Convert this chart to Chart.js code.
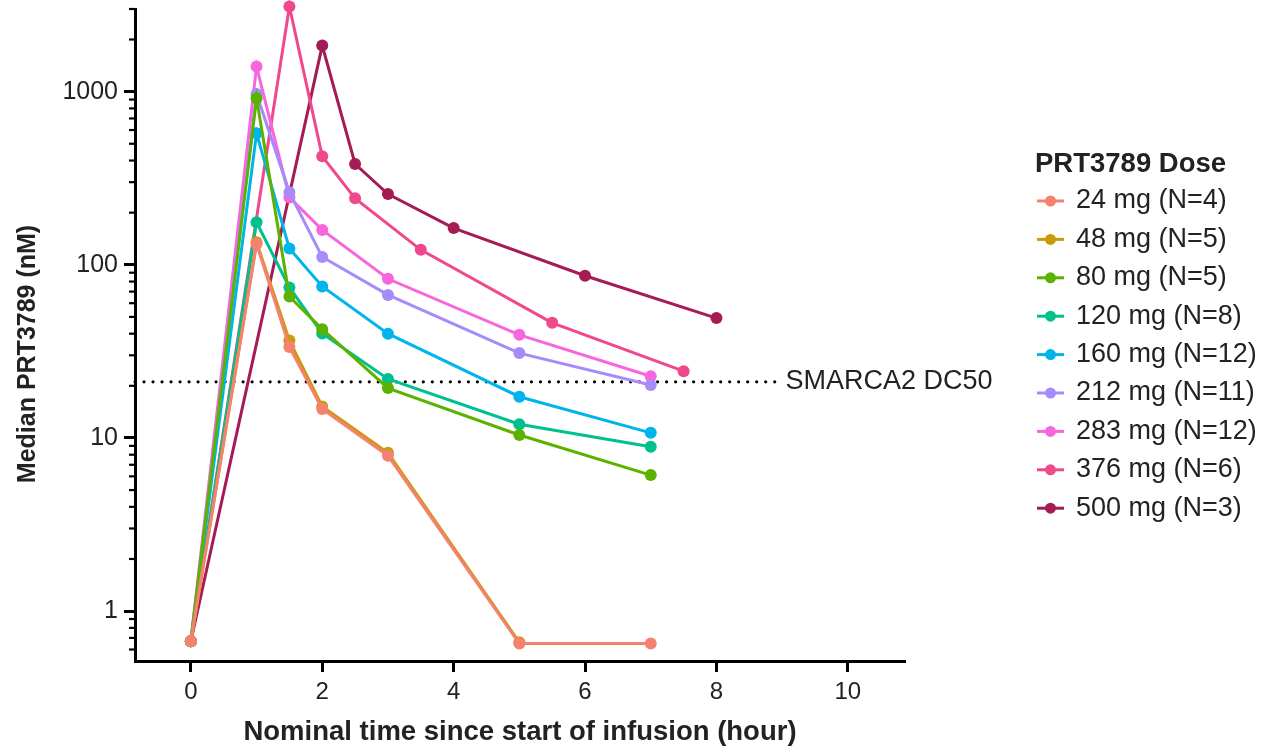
<!DOCTYPE html>
<html><head><meta charset="utf-8">
<script src="https://cdn.jsdelivr.net/npm/chart.js@4"></script>
<style>html,body{margin:0;padding:0;background:#fff;}#wrap{width:1261px;height:749px;}</style>
</head><body><div id="wrap"><canvas id="c" width="1261" height="749"></canvas></div>
<script>
// ---- data ----
const seriesLabels = ["24 mg (N=4)","48 mg (N=5)","80 mg (N=5)","120 mg (N=8)","160 mg (N=12)","212 mg (N=11)","283 mg (N=12)","376 mg (N=6)","500 mg (N=3)"];
const seriesColors = ["#F5826F","#C99B0A","#5BB300","#00C08E","#00B5EB","#A68CFA","#F866DD","#F0488C","#A51B55"];
const t_24  = [0,1,1.5,2,3,5,7];       const v_24  = [0.67,132,33.5,14.7,7.9,0.65,0.65];
const t_48  = [0,1,1.5,2,3,5];         const v_48  = [0.67,135,36.5,15.2,8.2,0.66];
const t_80  = [0,1,1.5,2,3,5,7];       const v_80  = [0.67,915,65.6,42.5,19.4,10.4,6.1];
const t_120 = [0,1,1.5,2,3,5,7];       const v_120 = [0.67,176,74,40.1,21.9,12.0,8.9];
const t_160 = [0,1,1.5,2,3,5,7];       const v_160 = [0.67,574,124,75,40,17.3,10.7];
const t_212 = [0,1,1.5,2,3,5,7];       const v_212 = [0.67,970,262,111,67,30.9,20.2];
const t_283 = [0,1,1.5,2,3,5,7];       const v_283 = [0.67,1395,245,159,83,39.4,22.7];
const t_376 = [0,1.5,2,2.5,3.5,5.5,7.5]; const v_376 = [0.67,3100,423,242,122,46.2,24.3];
const t_500 = [0,2,2.5,3,4,6,8];       const v_500 = [0.67,1845,382,256,163,86.4,49.2];
const dc50Value = 21.1;
const dc50Span = [-0.85, 8.9];
const dc50Label = "SMARCA2 DC50";
const xTickValues = [0,2,4,6,8,10];
const yTickValues = [1,10,100,1000];
const yMinorTicks = [0.6,0.7,0.8,0.9,2,3,4,5,6,7,8,9,20,30,40,50,60,70,80,90,200,300,400,500,600,700,800,900,2000,3000];
const legendTitle = "PRT3789 Dose";
const xTitle = "Nominal time since start of infusion (hour)";
const yTitle = "Median PRT3789 (nM)";

const allT = [t_24,t_48,t_80,t_120,t_160,t_212,t_283,t_376,t_500];
const allV = [v_24,v_48,v_80,v_120,v_160,v_212,v_283,v_376,v_500];
const FONT = "'Liberation Sans', Arial, Helvetica, sans-serif";

const datasets = allT.map((ts, i) => ({
  label: seriesLabels[i],
  data: ts.map((t, j) => ({x: t, y: allV[i][j]})),
  borderColor: seriesColors[i],
  backgroundColor: seriesColors[i],
  pointBackgroundColor: seriesColors[i],
  pointBorderWidth: 0,
  pointRadius: 6,
  borderWidth: 3,
  tension: 0,
  clip: false
}));
datasets.push({
  label: dc50Label,
  data: [{x: dc50Span[0], y: dc50Value}, {x: dc50Span[1], y: dc50Value}],
  borderColor: "#000",
  borderWidth: 3.2,
  borderDash: [0.01, 9],
  borderCapStyle: "round",
  pointRadius: 0,
  clip: false
});

const extras = {
  id: "extras",
  afterDraw(chart) {
    const ctx = chart.ctx, ys = chart.scales.y, xs = chart.scales.x, ca = chart.chartArea;
    ctx.save();
    // minor ticks
    ctx.strokeStyle = "#000"; ctx.lineWidth = 2.2;
    yMinorTicks.forEach(v => {
      if (v < ys.min || v > ys.max) return;
      const py = ys.getPixelForValue(v);
      ctx.beginPath(); ctx.moveTo(ca.left - 6, py); ctx.lineTo(ca.left, py); ctx.stroke();
    });
    // y title
    ctx.save();
    ctx.translate(28, 354); ctx.rotate(-Math.PI / 2);
    ctx.font = "bold 25px " + FONT; ctx.fillStyle = "#222"; ctx.textAlign = "center"; ctx.textBaseline = "middle";
    ctx.fillText(yTitle, 0, 0);
    ctx.restore();
    // DC50 label
    ctx.fillStyle = "#222"; ctx.font = "27px " + FONT; ctx.textBaseline = "middle"; ctx.textAlign = "left";
    ctx.fillText(dc50Label, xs.getPixelForValue(dc50Span[1]) + 10, ys.getPixelForValue(dc50Value));
    // legend
    const lx = 1035, ly0 = 201, dy = 38.4;
    ctx.font = "bold 27.5px " + FONT; ctx.fillStyle = "#222";
    ctx.fillText(legendTitle, lx, 164);
    ctx.font = "27px " + FONT;
    seriesLabels.forEach((lab, i) => {
      const y = ly0 + i * dy;
      ctx.strokeStyle = seriesColors[i]; ctx.lineWidth = 3;
      ctx.beginPath(); ctx.moveTo(lx + 2, y); ctx.lineTo(lx + 29, y); ctx.stroke();
      ctx.fillStyle = seriesColors[i];
      ctx.beginPath(); ctx.arc(lx + 15.5, y, 5.5, 0, Math.PI * 2); ctx.fill();
      ctx.fillStyle = "#222";
      ctx.fillText(lab, lx + 41, y);
    });
    ctx.restore();
  }
};

new Chart(document.getElementById("c"), {
  type: "line",
  data: { datasets },
  plugins: [extras],
  options: {
    responsive: false,
    animation: false,
    layout: { padding: { top: 9, right: 356, left: 0, bottom: 0 } },
    plugins: { legend: { display: false }, tooltip: { enabled: false } },
    scales: {
      x: {
        type: "linear", min: -0.85, max: 10.87,
        afterBuildTicks: s => { s.ticks = xTickValues.map(v => ({value: v})); },
        afterFit: s => { s.height = 88; s.paddingLeft = 0; s.paddingRight = 0; },
        grid: { drawOnChartArea: false, drawTicks: true, tickLength: 11, tickWidth: 3, tickColor: "#000" },
        border: { display: true, width: 3, color: "#000" },
        ticks: { color: "#222", font: { family: FONT, size: 24 }, padding: 6, maxRotation: 0 },
        title: { display: true, text: xTitle, color: "#222", font: { family: FONT, size: 27.5, weight: "bold" }, padding: { top: 0, bottom: 0 } }
      },
      y: {
        type: "logarithmic", min: 0.515, max: 3000,
        afterBuildTicks: s => { s.ticks = yTickValues.map(v => ({value: v, major: true})); },
        afterFit: s => { s.width = 135; s.paddingTop = 0; s.paddingBottom = 0; },
        grid: { drawOnChartArea: false, drawTicks: true, tickLength: 11, tickWidth: 3, tickColor: "#000" },
        border: { display: true, width: 3, color: "#000" },
        ticks: { color: "#222", font: { family: FONT, size: 25 }, padding: 6, callback: v => String(v) },
        title: { display: false }
      }
    }
  }
});
</script>
</body></html>
